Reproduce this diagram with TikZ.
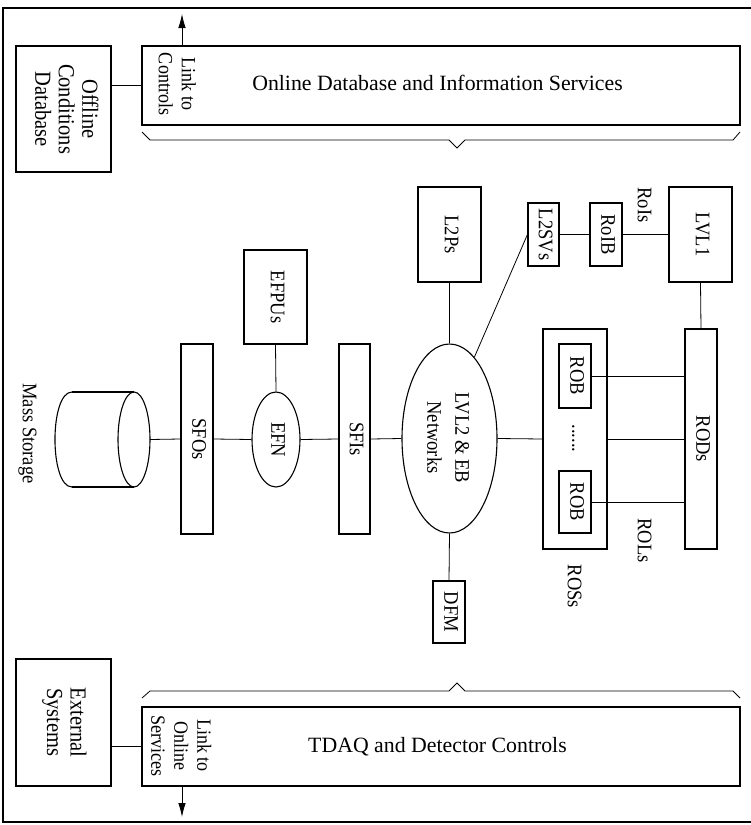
\documentclass[tikz,border=0pt]{standalone}
\usepackage{fontspec}
\setmainfont{Liberation Serif}
\usetikzlibrary{shapes.geometric,arrows.meta}
\newcommand{\rottxt}[1]{\rotatebox{-90}{\scalebox{1}[1.12]{\begin{tabular}{@{}c@{}}#1\end{tabular}}}}
\begin{document}
\begin{tikzpicture}[x=1pt,y=-1pt,
  box/.style={draw, line width=1.1pt, rectangle, inner sep=0pt},
  oval/.style={draw, line width=1.1pt, ellipse, inner sep=0pt},
  conn/.style={line width=0.8pt},
  big/.style={font=\fontsize{21.8}{26}\selectfont, inner sep=0pt},
  mid/.style={font=\fontsize{20.5}{21}\selectfont},
  sm/.style={font=\fontsize{18.5}{20.5}\selectfont},
  lnk/.style={inner sep=0pt, font=\fontsize{18}{20.5}\selectfont},
  rlbl/.style={inner sep=0pt, font=\fontsize{18.5}{20.5}\selectfont},
  arr/.style={conn, -{Latex[length=14pt,width=7.5pt]}}
]
\useasboundingbox (0,0) rectangle (751,825);
% frame
\draw[line width=1.1pt] (751,8) -- (3,8) -- (3,822) -- (751,822);

% top row
\node[box, mid, minimum width=95pt, minimum height=126pt] (offline) at (63.5,109) {\rottxt{Offline\\Conditions\\Database}};
\node[box, minimum width=598pt, minimum height=79pt] (online) at (441,85.5) {};
\node[big, anchor=base] (onlinetxt) at (437.5,90) {Online Database and Information Services};
\node[lnk] (linkc) at (175,84) {\rottxt{Link to\\Controls}};
\coordinate (ctop) at (182,14);
\draw[conn] (online.west) -- (online.west -| offline.east);
\draw[arr] (online.north -| ctop) -- (ctop);
\draw[conn] (142,132) -- (150,140) -- (449,140) -- (457,148) -- (465,140) -- (733,140) -- (740,132);

% bottom row
\node[box, mid, minimum width=95pt, minimum height=127pt] (ext) at (63.5,722.5) {\rottxt{External\\Systems}};
\node[box, minimum width=598pt, minimum height=79pt] (tdaq) at (441,746.5) {};
\node[big, anchor=base] (tdaqtxt) at (437.5,752) {TDAQ and Detector Controls};
\node[lnk] (links) at (179,745.5) {\rottxt{Link to\\Online\\Services}};
\coordinate (cbot) at (182,817);
\draw[conn] (tdaq.west) -- (tdaq.west -| ext.east);
\draw[arr] (tdaq.south -| cbot) -- (cbot);
\draw[conn] (142,698) -- (150,691) -- (449,691) -- (457,683) -- (465,691) -- (733,691) -- (740,698);

% mass storage
\draw[line width=1.1pt] (72,392) -- (134,392) (72,487) -- (134,487);
\draw[line width=1.1pt] (72,392) .. controls (49.3,392) and (49.3,487) .. (72,487);
\draw[line width=1.1pt] (134,439.5) ellipse [x radius=16pt, y radius=47.5pt];
\coordinate (ms) at (150,439.5);
\node[rlbl] (mslbl) at (27.5,433.5) {\rottxt{Mass Storage}};

% event filter
\node[box, sm, minimum width=32pt, minimum height=190pt] (sfos) at (197,439) {\rottxt{SFOs}};
\node[oval, sm, minimum width=48pt, minimum height=95pt] (efn) at (276,439.5) {\rottxt{EFN}};
\node[box, sm, minimum width=63pt, minimum height=94pt] (efpus) at (275.5,297) {\rottxt{EFPUs}};
\node[box, sm, minimum width=31pt, minimum height=190pt] (sfis) at (354.5,439) {\rottxt{SFIs}};

% LVL2 & EB
\node[oval, minimum width=95pt, minimum height=189pt] (lvl2) at (449.5,438.5) {};
\node[inner sep=0pt, font=\fontsize{18.5}{25}\selectfont] (lvl2txt) at (447,437.5) {\rottxt{LVL2 \& EB\\Networks}};
\node[box, sm, minimum width=63pt, minimum height=95pt] (l2ps) at (449.5,234.5) {\rottxt{L2Ps}};
\node[box, sm, minimum width=31pt, minimum height=63pt] (l2svs) at (543.5,234.5) {\rottxt{L2SVs}};
\node[box, sm, minimum width=32pt, minimum height=63pt] (roib) at (606,234.5) {\rottxt{RoIB}};
\node[box, sm, minimum width=63pt, minimum height=95pt] (lvl1) at (700.5,234.5) {\rottxt{LVL1}};
\node[box, sm, minimum width=32pt, minimum height=62pt] (dfm) at (449,612) {\rottxt{DFM}};

% readout
\node[box, minimum width=64pt, minimum height=220pt] (ros) at (575,439) {};
\node[box, sm, minimum width=32pt, minimum height=64pt] (robt) at (575,376) {\rottxt{ROB}};
\node[box, sm, minimum width=32pt, minimum height=62pt] (robb) at (575,502) {\rottxt{ROB}};
\node[rlbl] (dots) at (577,438.5) {\rottxt{......}};
\node[box, sm, minimum width=32pt, minimum height=220pt] (rods) at (701,439) {\rottxt{RODs}};

% labels
\node[rlbl] (rois) at (642.5,205) {\rottxt{RoIs}};
\node[rlbl] (rols) at (642.5,540.5) {\rottxt{ROLs}};
\node[rlbl] (ross) at (572.5,586.5) {\rottxt{ROSs}};

% connectors
\draw[conn] (ms) -- (sfos.west);
\draw[conn] (sfos.east) -- (efn.west);
\draw[conn] (efn.east) -- (sfis.west);
\draw[conn] (efpus.south) -- (efn.north);
\draw[conn] (sfis.east) -- (lvl2.west);
\draw[conn] (l2ps.south) -- (lvl2.north);
\draw[conn] (lvl2.73) -- (l2svs.west);
\draw[conn] (l2svs.east) -- (roib.west);
\draw[conn] (roib.east) -- (lvl1.west);
\draw[conn] (lvl1.south) -- (rods.north);
\draw[conn] (lvl2.east) -- (ros.west);
\draw[conn] (ros.east) -- (rods.west);
\draw[conn] (robt.east) -- (robt.east -| rods.west);
\draw[conn] (robb.east) -- (robb.east -| rods.west);
\draw[conn] (lvl2.south) -- (dfm.north);
\end{tikzpicture}
\end{document}
